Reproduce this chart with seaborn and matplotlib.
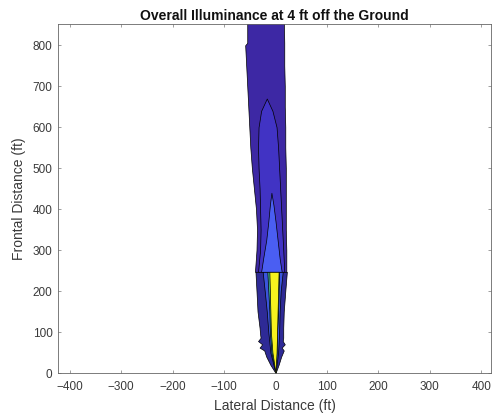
import numpy as np
import matplotlib
matplotlib.use("Agg")
import matplotlib.pyplot as plt
import seaborn as sns

# Lateral extent (ft) of each illuminance band.
# Far field (second fixture), starts at the 247 ft step
far_y = [247, 300, 350, 400, 450, 500, 550, 600, 650, 700, 750, 800, 806, 870]
far_outer_left = [-40, -37, -36, -38, -42, -46, -49, -51, -53, -55, -57, -59, -55, -55]
far_outer_right = [21, 21, 20, 20, 20, 20, 19, 19, 18, 18, 17, 17, 17, 16]

far_mid_y = [247, 300, 350, 400, 450, 500, 550, 600, 640, 670]
far_mid_left = [-34, -30, -29, -30, -31, -33, -34, -33, -28, -17]
far_mid_right = [17, 15, 13, 11, 9, 7, 5, 2, -6, -17]

far_high_y = [247, 280, 325, 370, 410, 440]
far_high_left = [-28, -24, -18, -14, -11, -8]
far_high_right = [12, 8, 4, 0, -4, -8]

# Near field (first fixture), 0 to 247 ft
near_y = [0, 20, 40, 55, 62, 70, 78, 86, 95, 110, 150, 200, 247]
near_outer_left = [0, -10, -18, -22, -31, -26, -34, -29, -30, -31, -35, -37, -39]
near_outer_right = [0, 6, 11, 16, 12, 18, 14, 15, 15, 15, 16, 19, 22]

near_band_y = [0, 50, 100, 150, 200, 247]
near_blue_left = [0, -10, -14, -17, -21, -25]
near_blue_right = [0, 5, 7, 8, 10, 14]
near_green_left = [0, -8, -11, -12, -14, -16]
near_green_right = [0, 2, 3, 5, 6, 7]
near_yellow_left = [0, -6, -9, -10, -11, -12]
near_yellow_right = [0, 2, 3, 4, 5, 6]

x_ticks = [-400, -300, -200, -100, 0, 100, 200, 300, 400]
y_ticks = [0, 100, 200, 300, 400, 500, 600, 700, 800]

sns.set_style("ticks", {"xtick.direction": "in", "ytick.direction": "in",
                        "axes.edgecolor": "#666666"})
plt.rcParams["font.family"] = ["Liberation Sans", "DejaVu Sans"]

fig = plt.figure(figsize=(4.94, 4.17), dpi=100)
ax = fig.add_axes([0.1174, 0.1055, 0.8765, 0.837])

bands = [
    (far_y, far_outer_left, far_outer_right, "#3d28a4"),
    (far_mid_y, far_mid_left, far_mid_right, "#4133c4"),
    (far_high_y, far_high_left, far_high_right, "#4a5ef2"),
    (near_y, near_outer_left, near_outer_right, "#2e2a96"),
    (near_band_y, near_blue_left, near_blue_right, "#3b55dc"),
    (near_band_y, near_green_left, near_green_right, "#3fb592"),
    (near_band_y, near_yellow_left, near_yellow_right, "#f6f21e"),
]
for y, left, right, color in bands:
    ax.fill_betweenx(y, left, right, facecolor=color, edgecolor="black", linewidth=0.5)

ax.set_xlim(-423, 419)
ax.set_ylim(0, 852)
ax.set_xticks(x_ticks)
ax.set_yticks(y_ticks)
ax.tick_params(labelsize=8.5, colors="#777777", labelcolor="#3a3a3a", length=2.5,
               width=0.5, top=True, right=True, pad=4)
ax.tick_params(axis="x", pad=6)
for s in ax.spines.values():
    s.set_linewidth(0.6)

ax.set_xlabel("Lateral Distance (ft)", fontsize=10, color="#3a3a3a", labelpad=4)
ax.set_ylabel("Frontal Distance (ft)", fontsize=10, color="#3a3a3a", labelpad=5)
ax.set_title("Overall Illuminance at 4 ft off the Ground", fontsize=10,
             fontweight="bold", color="#111111", pad=3)

plt.savefig("out.png", dpi=100)
plt.close()
